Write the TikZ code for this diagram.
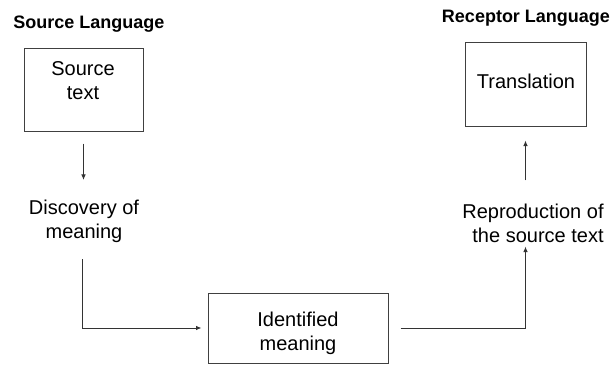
\documentclass[tikz,border=0pt]{standalone}
\usepackage{fontspec}
\setmainfont{Liberation Sans}
\usetikzlibrary{arrows.meta}

\begin{document}
\begin{tikzpicture}[x=1pt, y=-1pt, >={Latex[width=4.5pt,length=5.5pt]},
    box/.style={draw=black!75, line width=1pt},
    txt/.style={inner sep=0pt, align=center, font=\fontsize{20}{24}\selectfont},
    head/.style={inner sep=0pt, font=\fontsize{18}{21}\selectfont\bfseries},
    line/.style={draw=black!80, line width=0.9pt}]
    \useasboundingbox (0,0) rectangle (611,365);
    % languages on top
    \node[head] (srclang) at (89,24) {Source Language};
    \node[head] (reclang) at (526,18) {Receptor Language};
    % boxes
    \node[box, minimum width=119pt, minimum height=83pt] (srcbox) at (83.5,89.5) {};
    \node[txt] (src) at (83,81) {Source\\text};
    \node[box, minimum width=121pt, minimum height=84pt] (transbox) at (525.5,84) {};
    \node[txt] (trans) at (526,81) {Translation};
    \node[box, minimum width=180pt, minimum height=70pt] (idbox) at (298,328) {};
    \node[txt] (ident) at (298,333) {Identified\\meaning};
    % steps without box
    \node[txt] (disc) at (84,221.5) {Discovery of\\meaning};
    \node[txt, align=right] (repro) at (533,223) {Reproduction of\\the source text};
    % connect left side
    \draw[line, ->, shorten <=12pt, shorten >=20pt] (srcbox.south) -- (srcbox.south |- disc.north);
    \draw[line, ->, shorten <=16pt, shorten >=6pt] ([xshift=-2pt]disc.south) |- (idbox.west);
    % connect right side
    \draw[line, ->, shorten <=12pt, shorten >=4pt] (idbox.east) -| (transbox.south |- repro.south);
    \draw[line, ->, shorten <=23pt, shorten >=14pt] (transbox.south |- repro.north) -- (transbox.south);
\end{tikzpicture}
\end{document}
